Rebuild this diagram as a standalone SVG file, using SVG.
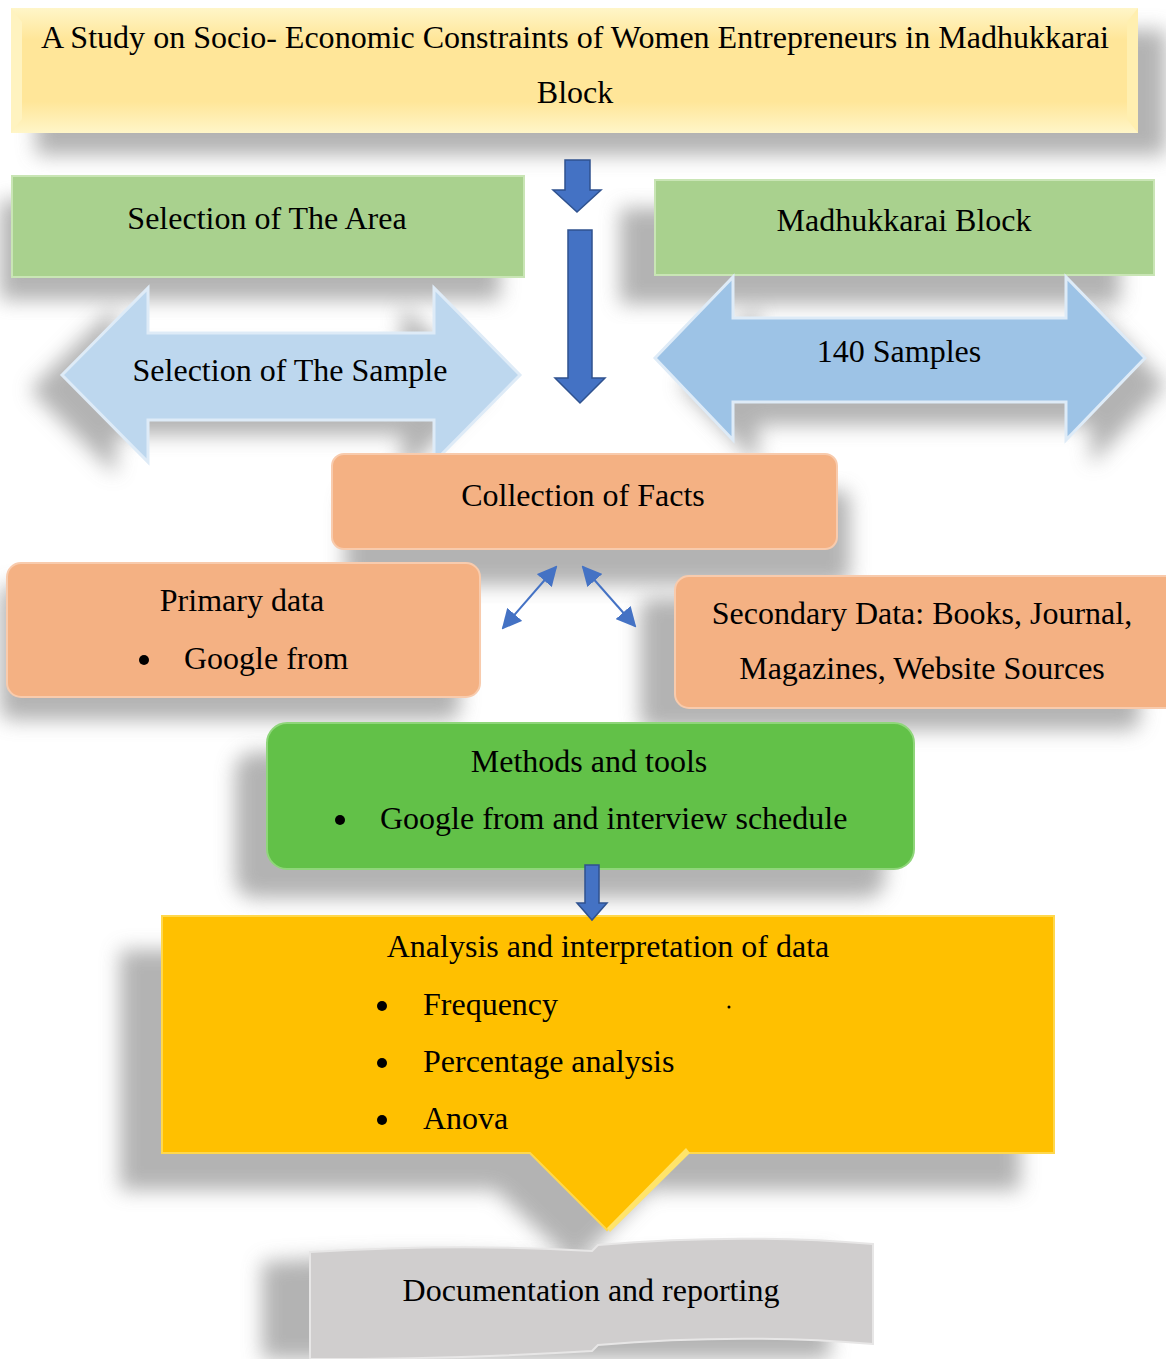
<svg xmlns="http://www.w3.org/2000/svg" width="1166" height="1359" viewBox="0 0 1166 1359">
<defs>
  <filter id="blur" x="-20%" y="-20%" width="140%" height="140%"><feGaussianBlur stdDeviation="10"/></filter>
  <linearGradient id="gTitle" x1="0" y1="0" x2="0" y2="1">
    <stop offset="0" stop-color="#FFF6C8"/>
    <stop offset="0.25" stop-color="#FFE699"/>
    <stop offset="0.75" stop-color="#FFE699"/>
    <stop offset="1" stop-color="#FFF6C8"/>
  </linearGradient>
  <marker id="ah2" viewBox="0 0 10 10" refX="9" refY="5" markerWidth="20" markerHeight="20" orient="auto-start-reverse" markerUnits="userSpaceOnUse">
    <path d="M0,0 L10,5 L0,10 z" fill="#4472C4"/>
  </marker>
</defs>
<style>
  text { font-family: "Liberation Serif", "Times New Roman", serif; font-size: 32px; fill: #000; }
  .c { text-anchor: middle; }
  .shadow { fill: #9a9a9a; opacity: 0.75; filter: url(#blur); }
  .blue { fill: #4472C4; stroke: #2F528F; stroke-width: 1.5; }
  .green { fill: #A9D18E; stroke: #C9E5B5; stroke-width: 2; }
  .orange { fill: #F4B183; stroke: #F8CBAD; stroke-width: 2; }
  .line { stroke: #4472C4; stroke-width: 2; fill: none; }
</style>
<rect width="1166" height="1359" fill="#fff"/>

<!-- shadows -->
<g id="shadows">
  <rect class="shadow" x="36" y="30" width="1130" height="125"/>
  <rect class="shadow" x="0" y="200" width="500" height="100"/>
  <rect class="shadow" x="620" y="208" width="500" height="96"/>
  <path class="shadow" d="M30,390 L116,305 L116,350 L402,350 L402,305 L488,390 L402,475 L402,435 L116,435 L116,475 z"/>
  <path class="shadow" d="M680,385 L758,305 L758,345 L1091,345 L1091,305 L1166,385 L1091,465 L1091,425 L758,425 L758,465 z"/>
  <rect class="shadow" x="345" y="490" width="505" height="95" rx="12"/>
  <rect class="shadow" x="0" y="585" width="460" height="135" rx="12"/>
  <rect class="shadow" x="640" y="598" width="500" height="132" rx="12"/>
  <rect class="shadow" x="235" y="752" width="650" height="146" rx="20"/>
  <path class="shadow" d="M120,950 L1020,950 L1020,1190 L650,1190 L575,1265 L495,1190 L120,1190 z"/>
  <path class="shadow" d="M262,1262 Q430,1250 555,1262 L830,1252 L830,1359 L262,1359 z"/>
</g>

<!-- title -->
<g id="title">
  <rect x="11" y="8" width="1127" height="125" fill="url(#gTitle)"/>
  <path d="M11,8 L22,22 L22,119 L11,133 z" fill="#FFF3C0"/>
  <path d="M1138,8 L1127,22 L1127,119 L1138,133 z" fill="#FFEFB0"/>
  <text class="c" x="575" y="48" textLength="1068" lengthAdjust="spacingAndGlyphs">A Study on Socio- Economic Constraints of Women Entrepreneurs in Madhukkarai</text>
  <text class="c" x="575" y="103">Block</text>
</g>

<g id="area">
  <rect class="green" x="12" y="176" width="512" height="101"/>
  <text class="c" x="267" y="229">Selection of The Area</text>
</g>

<g id="block">
  <rect class="green" x="655" y="180" width="499" height="95"/>
  <text class="c" x="904" y="231">Madhukkarai Block</text>
</g>

<g id="sample">
  <path d="M62,375 L148,288 L148,333 L434,333 L434,288 L520,375 L434,462 L434,420 L148,420 L148,462 z" fill="#BDD7EE" stroke="#DEEBF7" stroke-width="3"/>
  <text class="c" x="290" y="381">Selection of The Sample</text>
</g>

<g id="samples140">
  <path d="M655,358 L733,277 L733,318 L1066,318 L1066,277 L1145,358 L1066,440 L1066,402 L733,402 L733,440 z" fill="#9DC3E6" stroke="#DEEBF7" stroke-width="3"/>
  <text class="c" x="899" y="362">140 Samples</text>
</g>

<g id="facts">
  <rect class="orange" x="332" y="454" width="505" height="95" rx="12"/>
  <text class="c" x="583" y="506">Collection of Facts</text>
</g>

<g id="primary">
  <rect class="orange" x="7" y="563" width="473" height="134" rx="14"/>
  <text class="c" x="242" y="611">Primary data</text>
  <circle cx="144" cy="660" r="5" fill="#000"/>
  <text x="184" y="669">Google from</text>
</g>

<g id="secondary">
  <rect class="orange" x="675" y="576" width="505" height="132" rx="14"/>
  <text class="c" x="922" y="624">Secondary Data: Books, Journal,</text>
  <text class="c" x="922" y="679">Magazines, Website Sources</text>
</g>

<g id="methods">
  <rect x="267" y="723" width="647" height="146" rx="20" fill="#62C148" stroke="#8FD67A" stroke-width="2"/>
  <text class="c" x="589" y="772">Methods and tools</text>
  <circle cx="340" cy="820" r="5" fill="#000"/>
  <text x="380" y="829">Google from and interview schedule</text>
</g>

<g id="analysis">
  <path d="M162,916 L1054,916 L1054,1153 L686,1153 L607,1230 L530,1153 L162,1153 z" fill="#FFC000" stroke="#FFD84D" stroke-width="2"/>
  <path d="M686,1148 L690,1153 L610,1232 L607,1228 z" fill="#FFE46B"/>
  <text class="c" x="608" y="957">Analysis and interpretation of data</text>
  <circle cx="382" cy="1006" r="5" fill="#000"/>
  <text x="423" y="1015">Frequency</text>
  <circle cx="729" cy="1007" r="1.5" fill="#000"/>
  <circle cx="382" cy="1063" r="5" fill="#000"/>
  <text x="423" y="1072">Percentage analysis</text>
  <circle cx="382" cy="1120" r="5" fill="#000"/>
  <text x="423" y="1129">Anova</text>
</g>

<g id="documentation">
  <path d="M310,1252 Q460,1243 592,1251 L598,1245 Q740,1233 873,1244 L873,1344 Q740,1333 598,1345 L592,1351 Q460,1359 310,1359 z" fill="#D0CECE" stroke="#E7E6E6" stroke-width="2"/>
  <text class="c" x="591" y="1301">Documentation and reporting</text>
</g>

<!-- connectors -->
<g id="connectors">
  <path class="blue" d="M565,160 L590,160 L590,190 L601,190 L577,212 L553,190 L565,190 z"/>
  <path class="blue" d="M568,230 L592,230 L592,378 L605,378 L580,403 L555,378 L568,378 z"/>
  <line class="line" x1="503" y1="628" x2="556" y2="567" marker-start="url(#ah2)" marker-end="url(#ah2)"/>
  <line class="line" x1="583" y1="567" x2="635" y2="626" marker-start="url(#ah2)" marker-end="url(#ah2)"/>
  <path class="blue" d="M585,865 L599,865 L599,903 L607,903 L592,920 L577,903 L585,903 z"/>
</g>
</svg>
